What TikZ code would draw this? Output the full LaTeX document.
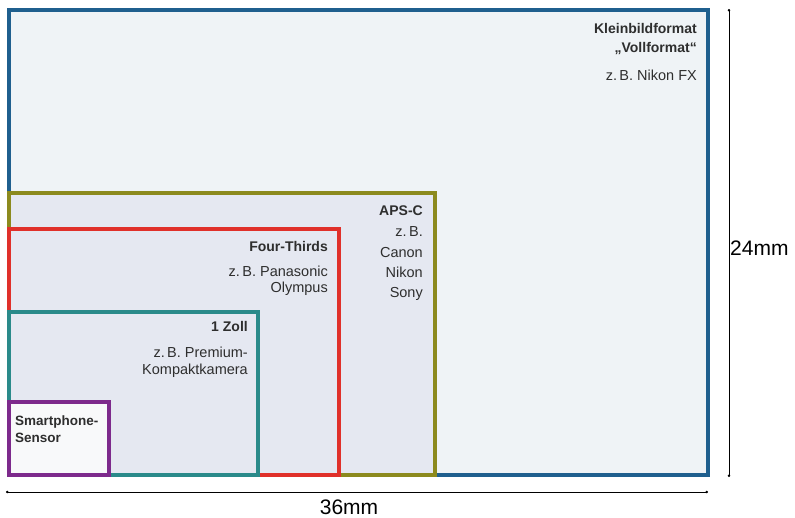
\documentclass[tikz,border=0pt]{standalone}
\usepackage{fontspec}
\setmainfont{Liberation Sans}
\usetikzlibrary{arrows.meta}
\definecolor{cFF}{HTML}{1F5F8E}
\definecolor{cAPS}{HTML}{8C8A1E}
\definecolor{cFT}{HTML}{E0302A}
\definecolor{cZoll}{HTML}{2A8A8A}
\definecolor{cSP}{HTML}{7D2A8C}
\definecolor{fFF}{HTML}{EFF3F6}
\definecolor{fAPS}{HTML}{E5E8F1}
\definecolor{fSP}{HTML}{F8F9FA}
\definecolor{txt}{HTML}{2E2E2E}
\begin{document}
\begin{tikzpicture}[x=1pt,y=-1pt,
  frame/.style={line width=3.8pt},
  title/.style={font=\fontsize{14}{16}\selectfont\bfseries, text=txt, inner sep=0pt, anchor=base east},
  sub/.style={font=\fontsize{14.5}{17}\selectfont, text=txt, inner sep=0pt, anchor=base east},
  spt/.style={font=\fontsize{13.5}{16}\selectfont\bfseries, text=txt, inner sep=0pt, anchor=base west},
  dim/.style={{Circle[length=2.5pt]}-{Circle[length=2.5pt]}, line width=0.9pt, black},
  dimlabel/.style={font=\fontsize{21}{24}\selectfont, inner sep=0pt}]
\useasboundingbox (0,0) rectangle (795,518);
\fill[white] (0,0) rectangle (795,518);
% frames
\draw[frame, cFF, fill=fFF] (9,10) rectangle (708,475);
\draw[frame, cAPS, fill=fAPS] (9,193) rectangle (435,475);
\draw[frame, cFT, fill=fAPS] (9,229) rectangle (339,475);
\draw[frame, cZoll, fill=fAPS] (9,312) rectangle (258,475);
\draw[frame, cSP, fill=fSP] (9,402) rectangle (109,475);
% texts
\node[title] (kb1) at (697,34) {Kleinbildformat};
\node[title] (kb2) at (697,53) {„Vollformat“};
\node[sub] (kbs) at (697,81) {z.\,B. Nikon FX};
\node[title] (apst) at (423,216) {APS-C};
\node[sub] (aps1) at (423,237) {z.\,B.};
\node[sub] (aps2) at (423,258) {Canon};
\node[sub] (aps3) at (423,278) {Nikon};
\node[sub] (aps4) at (423,298) {Sony};
\node[title] (ftt) at (328,252) {Four-Thirds};
\node[sub] (ft1) at (328,277) {z.\,B. Panasonic};
\node[sub] (ft2) at (328,293) {Olympus};
\node[title] (zt) at (248,332) {1 Zoll};
\node[sub] (z1) at (248,358) {z.\,B. Premium-};
\node[sub] (z2) at (248,374) {Kompaktkamera};
\node[spt] (sp1) at (15,425) {Smartphone-};
\node[spt] (sp2) at (15,442) {Sensor};
% dimensions
\coordinate (hl) at (6,492);
\coordinate (hr) at (708,492);
\coordinate (vt) at (729,9);
\coordinate (vb) at (729,477);
\draw[dim] (hl) -- (hr);
\draw[dim] (vt) -- (vb);
\node[dimlabel] (w) at (349,507) {36mm};
\node[dimlabel, anchor=west] (h) at (730,248) {24mm};
\end{tikzpicture}
\end{document}
